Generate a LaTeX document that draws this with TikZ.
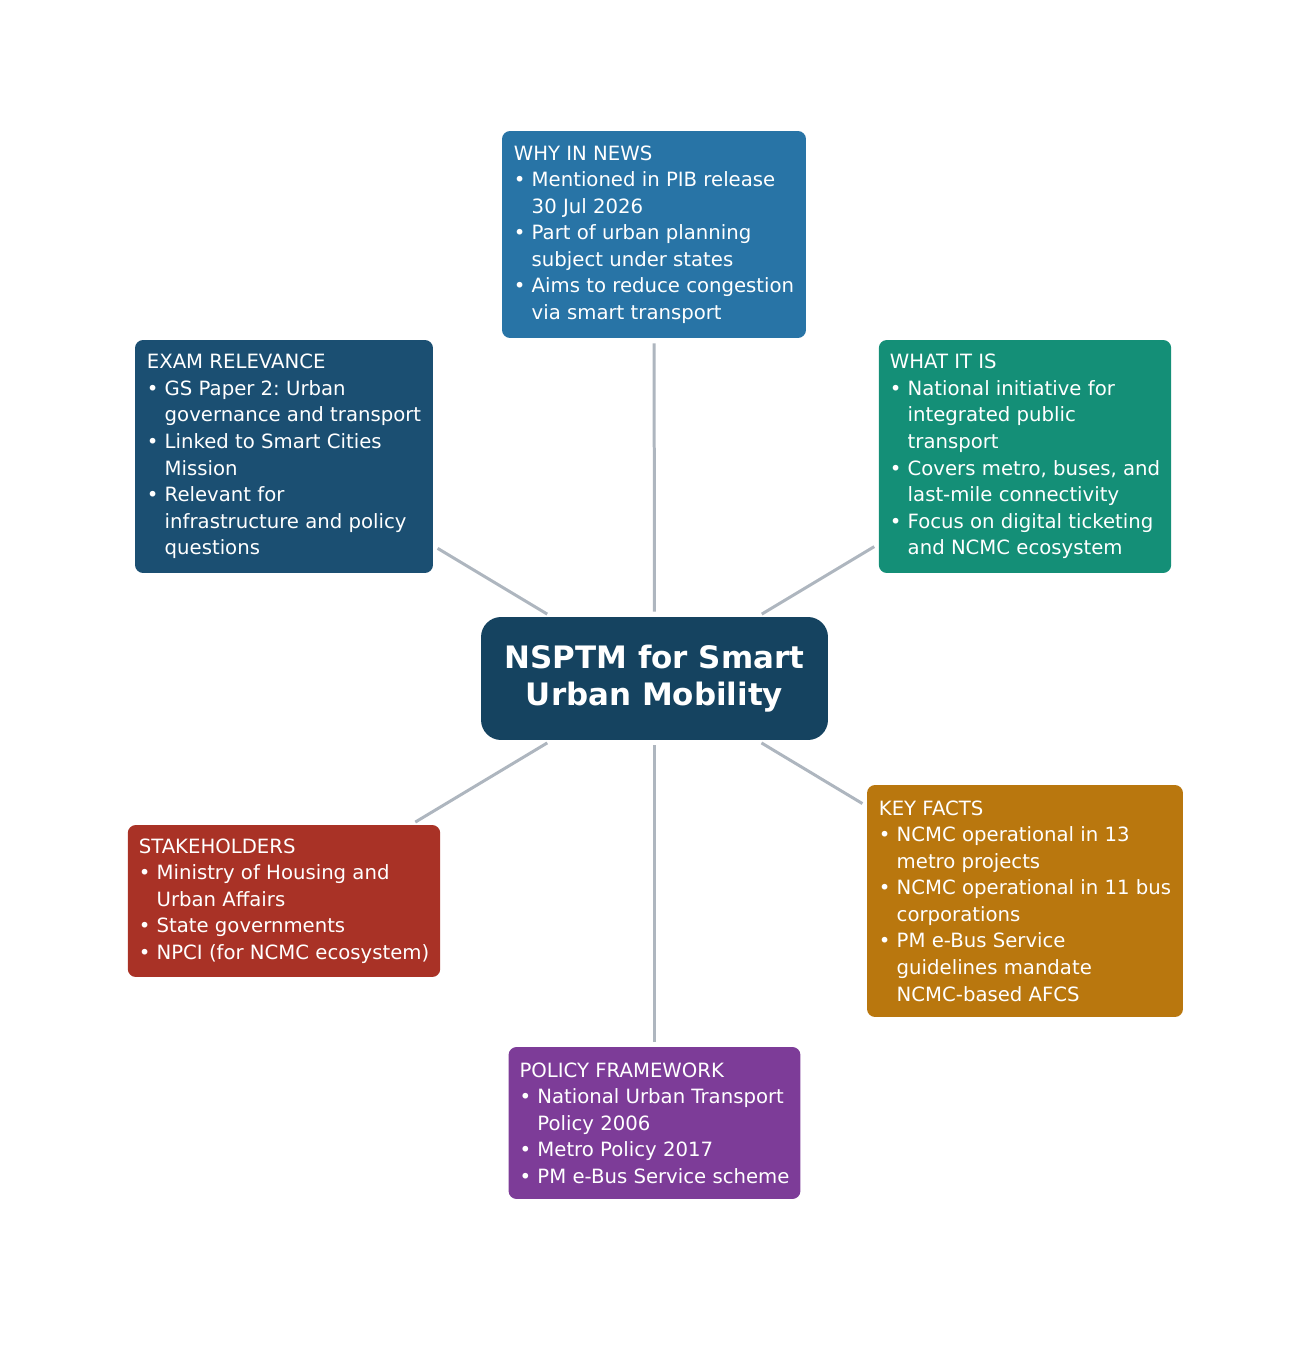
\documentclass[tikz,border=0pt]{standalone}
\usepackage{fontspec}
\setmainfont{DejaVu Sans}
\usepackage{xcolor}
\usetikzlibrary{positioning}
\frenchspacing
\definecolor{hubblue}{HTML}{154360}
\definecolor{newsblue}{HTML}{2874A6}
\definecolor{examblue}{HTML}{1B4F72}
\definecolor{whatgreen}{HTML}{148F77}
\definecolor{stakered}{HTML}{A93226}
\definecolor{factsgold}{HTML}{B9770E}
\definecolor{policyviolet}{HTML}{7D3C98}
\definecolor{spokegray}{HTML}{AEB6BF}
\tikzset{
  hub/.style={fill=hubblue, text=white, rounded corners=0.4cm, align=center,
    font=\bfseries\fontsize{17.6}{21.5}\selectfont, minimum width=6.94cm, minimum height=2.46cm},
  card/.style={text=white, rounded corners=0.16cm, align=left, inner sep=0.22cm,
    font=\fontsize{11.2}{15.1}\selectfont},
  spoke/.style={draw=spokegray, line width=0.06cm, shorten <=0.1cm, shorten >=0.1cm}
}
\newcommand{\ind}{\hphantom{•\ }}

\begin{document}
\begin{tikzpicture}[x=0.02cm, y=-0.02cm]
    \useasboundingbox (0,0) rectangle (1308,1358);

    \node[hub] (hub) at (654.5,678.5) {NSPTM for Smart\\Urban Mobility};

    \node[card, fill=newsblue, minimum width=6.08cm, minimum height=4.14cm] (news) at (654,234.5)
      {WHY IN NEWS\\• Mentioned in PIB release\\\ind 30 Jul 2026\\• Part of urban planning\\\ind subject under states\\• Aims to reduce congestion\\\ind via smart transport};
    \node[card, fill=examblue, minimum width=5.96cm, minimum height=4.66cm] (exam) at (284,456.5)
      {EXAM RELEVANCE\\• GS Paper 2: Urban\\\ind governance and transport\\• Linked to Smart Cities\\\ind Mission\\• Relevant for\\\ind infrastructure and policy\\\ind questions};
    \node[card, fill=whatgreen, minimum width=5.8cm, minimum height=4.66cm] (what) at (1025,456.5)
      {WHAT IT IS\\• National initiative for\\\ind integrated public\\\ind transport\\• Covers metro, buses, and\\\ind last-mile connectivity\\• Focus on digital ticketing\\\ind and NCMC ecosystem};
    \node[card, fill=stakered, minimum width=6.24cm, minimum height=3.04cm] (stake) at (284,901)
      {STAKEHOLDERS\\• Ministry of Housing and\\\ind Urban Affairs\\• State governments\\• NPCI (for NCMC ecosystem)};
    \node[card, fill=factsgold, minimum width=6.32cm, minimum height=4.64cm] (facts) at (1025,901)
      {KEY FACTS\\• NCMC operational in 13\\\ind metro projects\\• NCMC operational in 11 bus\\\ind corporations\\• PM e-Bus Service\\\ind guidelines mandate\\\ind NCMC-based AFCS};
    \node[card, fill=policyviolet, minimum width=5.82cm, minimum height=3.04cm] (policy) at (654.5,1123)
      {POLICY FRAMEWORK\\• National Urban Transport\\\ind Policy 2006\\• Metro Policy 2017\\• PM e-Bus Service scheme};

    % spokes from the hub
    \draw[spoke] (hub) -- (news);
    \draw[spoke] (hub) -- (exam);
    \draw[spoke] (hub) -- (what);
    \draw[spoke] (hub) -- (stake);
    \draw[spoke] (hub) -- (facts);
    \draw[spoke] (hub) -- (policy);
\end{tikzpicture}
\end{document}
